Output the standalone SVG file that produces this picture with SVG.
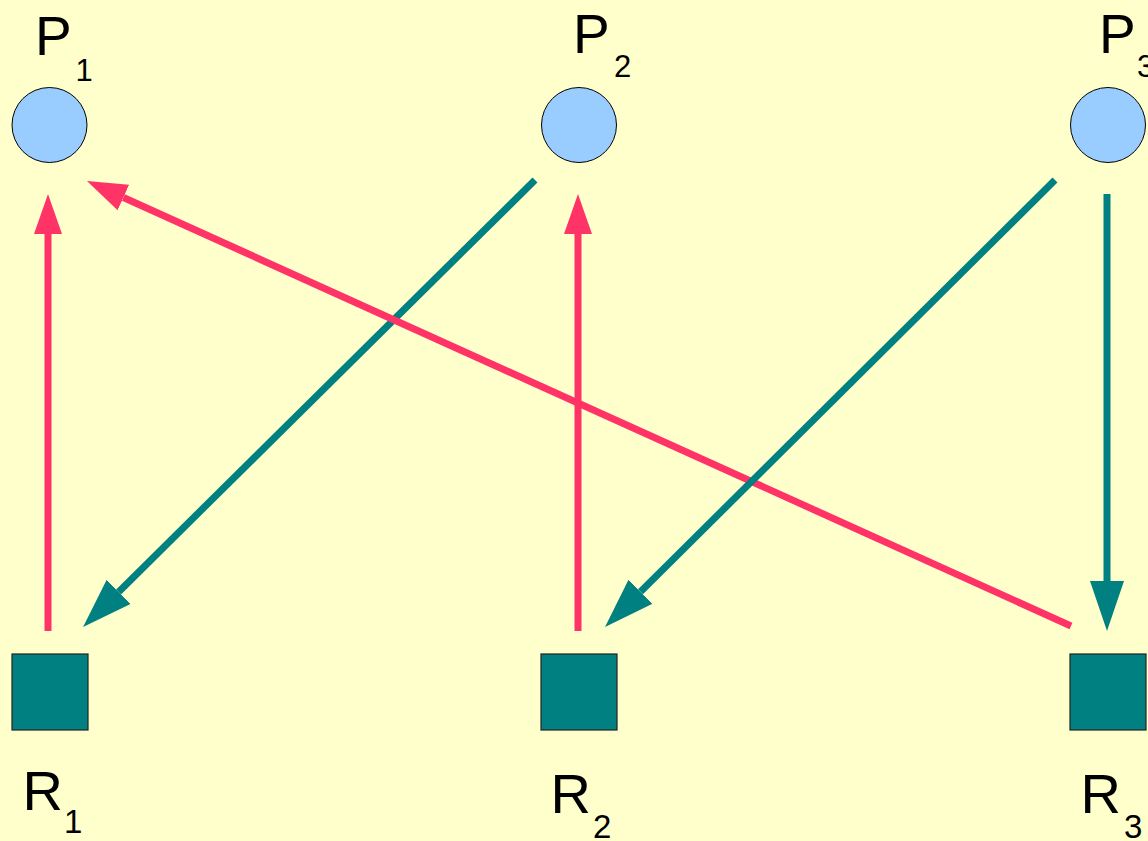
<svg xmlns="http://www.w3.org/2000/svg" width="1148" height="841" viewBox="0 0 1148 841">
<style>
.lbl{font-family:"Liberation Sans",Arial,sans-serif;fill:#000}
.big{font-size:55px}
.sub{font-size:31px}
.rsub{font-size:33px}
.proc{fill:#99CCFF;stroke:#000;stroke-width:1}
.res{fill:#008080;stroke:#222;stroke-width:1.2}
.req{stroke:#FF3366;stroke-width:7;fill:none;marker-end:url(#ah-red)}
.asg{stroke:#008080;stroke-width:7;fill:none;marker-end:url(#ah-teal)}
</style>
<defs>
<marker id="ah-red" markerUnits="userSpaceOnUse" markerWidth="40" markerHeight="28" refX="0" refY="14" orient="auto" viewBox="0 0 40 28">
<path d="M0,0 L40,14 L0,28 z" fill="#FF3366"/>
</marker>
<marker id="ah-teal" markerUnits="userSpaceOnUse" markerWidth="50" markerHeight="34" refX="0" refY="17" orient="auto" viewBox="0 0 50 34">
<path d="M0,0 L50,17 L0,34 z" fill="#008080"/>
</marker>
</defs>
<rect x="0" y="0" width="1148" height="841" fill="#FFFFCC"/>
<g id="connectors">
<line class="asg" x1="535" y1="180" x2="118.6" y2="591.9"/>
<line class="req" x1="1071" y1="626" x2="123.4" y2="197.5"/>
<line class="req" x1="48" y1="631" x2="48" y2="234"/>
<line class="req" x1="578" y1="631" x2="578" y2="234"/>
<line class="asg" x1="1055" y1="180" x2="640.5" y2="591.8"/>
<line class="asg" x1="1107" y1="194" x2="1107" y2="581"/>
</g>
<g id="P1">
<circle class="proc" cx="49.5" cy="125" r="37.5"/>
<text class="lbl big" x="35" y="55">P</text>
<text class="lbl sub" x="75.5" y="81">1</text>
</g>
<g id="P2">
<circle class="proc" cx="579" cy="125" r="37.5"/>
<text class="lbl big" x="573" y="53">P</text>
<text class="lbl sub" x="614" y="77">2</text>
</g>
<g id="P3">
<circle class="proc" cx="1108" cy="125" r="37.5"/>
<text class="lbl big" x="1099" y="53">P</text>
<text class="lbl sub" x="1137" y="77">3</text>
</g>
<g id="R1">
<rect class="res" x="12" y="654" width="76" height="76"/>
<text class="lbl big" x="22.5" y="810" style="font-size:56px">R</text>
<text class="lbl rsub" x="64" y="833">1</text>
</g>
<g id="R2">
<rect class="res" x="541" y="654" width="76" height="76"/>
<text class="lbl big" x="550.5" y="813" style="font-size:56px">R</text>
<text class="lbl rsub" x="593" y="838">2</text>
</g>
<g id="R3">
<rect class="res" x="1070" y="654" width="76" height="76"/>
<text class="lbl big" x="1080.5" y="813" style="font-size:56px">R</text>
<text class="lbl rsub" x="1124" y="838">3</text>
</g>
</svg>
